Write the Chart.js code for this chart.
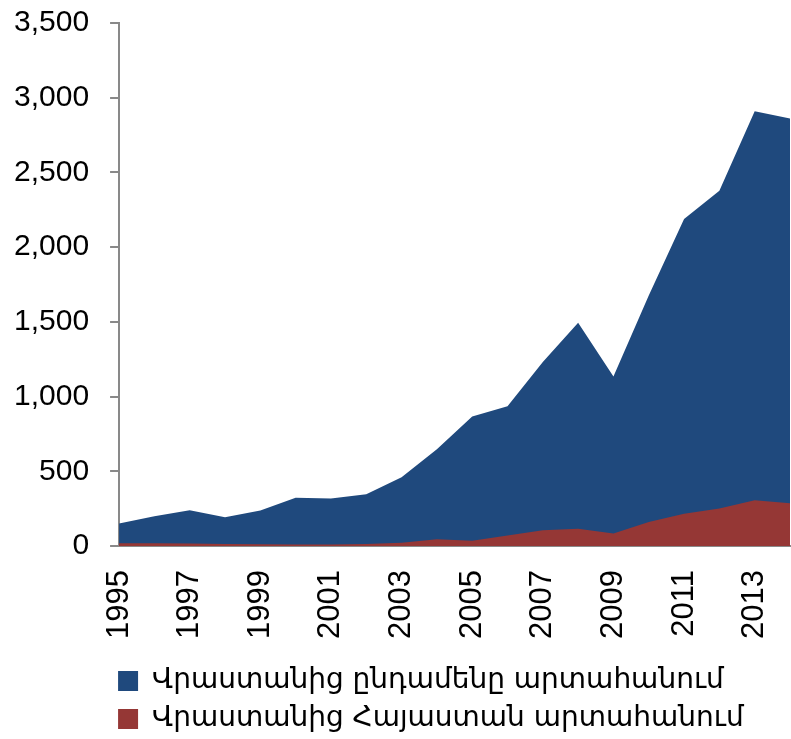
<!DOCTYPE html>
<html><head><meta charset="utf-8">
<script src="https://cdn.jsdelivr.net/npm/chart.js@4.4.1/dist/chart.umd.min.js"></script>
<style>html,body{margin:0;padding:0;background:#fff}#wrap{width:791px;height:739px;position:relative}</style>
</head><body><div id="wrap"><canvas id="c" width="791" height="739"></canvas></div>
<script>
const years = ['1995','1996','1997','1998','1999','2000','2001','2002','2003','2004','2005','2006','2007','2008','2009','2010','2011','2012','2013','2014'];
const totalExports = [151, 199, 240, 192, 238, 323, 318, 346, 461, 647, 866, 936, 1232, 1495, 1134, 1677, 2189, 2377, 2910, 2861];
const exportsToArmenia = [18, 18, 17, 14, 12, 10, 10, 14, 22, 45, 36, 70, 106, 116, 84, 161, 216, 251, 307, 286];
const seriesNames = ['Վրաստանից ընդամենը արտահանում', 'Վրաստանից Հայաստան արտահանում'];

const legendShift = {
  id: 'legendShift',
  afterLayout(chart) { if (chart.legend) { chart.legend.left = chart.chartArea.left - 11; } }
};

new Chart(document.getElementById('c'), {
  type: 'line',
  data: {
    labels: years,
    datasets: [
      { label: seriesNames[0], data: totalExports, backgroundColor: '#1F497D', borderColor: '#1F497D', borderWidth: 0, fill: 'origin', pointRadius: 0, order: 2 },
      { label: seriesNames[1], data: exportsToArmenia, backgroundColor: '#953735', borderColor: '#953735', borderWidth: 0, fill: 'origin', pointRadius: 0, order: 1 }
    ]
  },
  options: {
    responsive: false, animation: false, devicePixelRatio: 1,
    layout: { padding: { top: 23, right: 1, left: -7, bottom: -4 } },
    plugins: {
      legend: {
        position: 'bottom', align: 'start', fullSize: false,
        labels: { boxWidth: 20, boxHeight: 20, padding: 10, color: '#000',
          font: { family: 'DejaVu Sans', size: 28 },
          sort: (a, b) => a.datasetIndex - b.datasetIndex }
      },
      tooltip: { enabled: false }
    },
    scales: {
      x: {
        offset: false,
        grid: { display: false, drawTicks: false },
        border: { color: '#898989', width: 2 },
        ticks: { autoSkip: false, minRotation: 90, maxRotation: 90, padding: 24, color: '#000',
          font: { family: 'Liberation Sans', size: 31 },
          callback: (v, i) => (i % 2 === 0 ? years[i] : '') },
        afterFit: (s) => { s.paddingRight = 0; s.height -= 6; }
      },
      y: {
        min: 0, max: 3500,
        grid: { drawOnChartArea: false, tickLength: 9, color: '#898989', lineWidth: 2 },
        border: { color: '#898989', width: 2 },
        ticks: { stepSize: 500, padding: 21, color: '#000',
          font: { family: 'Liberation Sans', size: 30 },
          callback: (v) => v.toLocaleString('en-US') },
        afterFit: (s) => { s.paddingTop = 0; s.paddingBottom = 0; }
      }
    }
  },
  plugins: [legendShift]
});
</script>
</body></html>
